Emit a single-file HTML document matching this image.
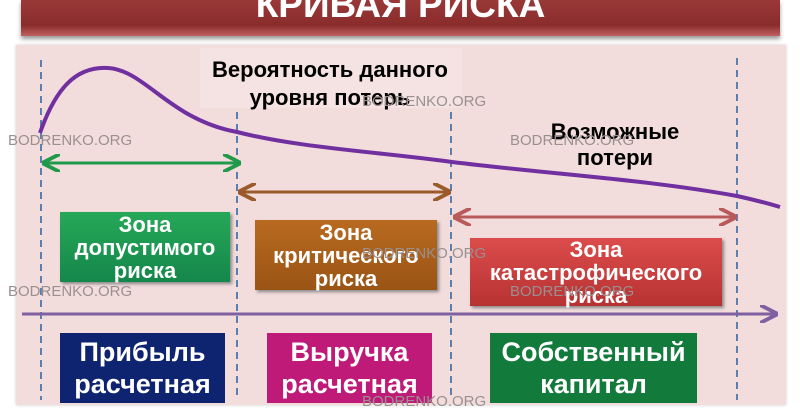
<!DOCTYPE html>
<html><head><meta charset="utf-8"><style>
body{margin:0;width:802px;height:400px;overflow:hidden;background:#fff;position:relative;font-family:"Liberation Sans","DejaVu Sans",sans-serif}
.a{position:absolute}
.t{font-weight:bold;text-align:center;color:#fff;line-height:1.1}
.wm{position:absolute;color:#9a9090;font-size:15px}
</style></head><body>
<div class="a" style="left:21px;top:0;width:759px;height:36px;background:linear-gradient(#9a3838,#8a2c2c 70%,#c06060);box-shadow:0 3px 4px #999"></div>
<div class="a t" style="left:21px;width:759px;top:-15px;font-size:37px;">КРИВАЯ РИСКА</div>
<div class="a" style="left:16px;top:45px;width:770px;height:360px;background:#f3dcdc;box-shadow:0 0 3px #ccc"></div>
<div class="a" style="left:200px;top:48px;width:262px;height:60px;background:#f5e3e3"></div>
<svg class="a" style="left:0;top:0" width="802" height="400">
<defs>
<marker id="g" markerWidth="6" markerHeight="6" refX="5" refY="3" orient="auto-start-reverse"><path d="M0,0 L6,3 L0,6" fill="none" stroke="#1f9a4a" stroke-width="1.3"/></marker>
<marker id="b" markerWidth="6" markerHeight="6" refX="5" refY="3" orient="auto-start-reverse"><path d="M0,0 L6,3 L0,6" fill="none" stroke="#9a5a2a" stroke-width="1.3"/></marker>
<marker id="r" markerWidth="6" markerHeight="6" refX="5" refY="3" orient="auto-start-reverse"><path d="M0,0 L6,3 L0,6" fill="none" stroke="#b85a5a" stroke-width="1.3"/></marker>
<marker id="p" markerWidth="6" markerHeight="6" refX="5" refY="3" orient="auto"><path d="M0,0 L6,3 L0,6" fill="none" stroke="#8060a0" stroke-width="1.3"/></marker>
</defs>
<g stroke="#5a7fb0" stroke-width="2" stroke-dasharray="7,5">
<line x1="41" y1="60" x2="41" y2="400"/><line x1="237" y1="112" x2="237" y2="400"/>
<line x1="451" y1="112" x2="451" y2="400"/><line x1="737" y1="58" x2="737" y2="400"/></g>
<path d="M40,133 C55,90 75,66 108,68 C145,70 170,120 237,132 C300,148 380,152 452,162 C560,175 650,180 737,196 C755,200 770,204 780,207" fill="none" stroke="#7030a0" stroke-width="4"/>
<line x1="45" y1="163" x2="238" y2="163" stroke="#1f9a4a" stroke-width="3" marker-start="url(#g)" marker-end="url(#g)"/>
<line x1="241" y1="192" x2="448" y2="192" stroke="#9a5a2a" stroke-width="3" marker-start="url(#b)" marker-end="url(#b)"/>
<line x1="456" y1="217" x2="734" y2="217" stroke="#b85a5a" stroke-width="3" marker-start="url(#r)" marker-end="url(#r)"/>
<line x1="22" y1="314" x2="775" y2="314" stroke="#8060a0" stroke-width="3" marker-end="url(#p)"/>
</svg>
<div class="a t" style="left:180px;width:300px;top:56px;font-size:22px;color:#000;line-height:28px">Вероятность данного<br>уровня потерь</div>
<div class="a t" style="left:515px;width:200px;top:119px;font-size:22px;color:#000;line-height:26px">Возможные<br>потери</div>
<div class="a t" style="left:60px;top:212px;width:170px;height:70px;background:linear-gradient(#26a858,#14874a);font-size:22px;line-height:23px;display:flex;align-items:center;justify-content:center;box-shadow:2px 2px 3px #888">Зона<br>допустимого<br>риска</div>
<div class="a t" style="left:255px;top:220px;width:182px;height:70px;background:linear-gradient(#b86a20,#9a5414);font-size:22px;line-height:23px;display:flex;align-items:center;justify-content:center;box-shadow:2px 2px 3px #888">Зона<br>критического<br>риска</div>
<div class="a t" style="left:470px;top:238px;width:252px;height:68px;background:linear-gradient(#dc4c4c,#b83232);font-size:22px;line-height:23px;display:flex;align-items:center;justify-content:center;box-shadow:2px 2px 3px #888">Зона<br>катастрофического<br>риска</div>
<div class="a t" style="left:60px;top:333px;width:165px;height:70px;background:#0f2470;font-size:27px;line-height:32px;display:flex;align-items:center;justify-content:center">Прибыль<br>расчетная</div>
<div class="a t" style="left:267px;top:333px;width:165px;height:70px;background:#c01a78;font-size:27px;line-height:32px;display:flex;align-items:center;justify-content:center">Выручка<br>расчетная</div>
<div class="a t" style="left:490px;top:333px;width:207px;height:70px;background:#127a3a;font-size:27px;line-height:32px;display:flex;align-items:center;justify-content:center">Собственный<br>капитал</div>
<div class="wm" style="left:8px;top:132px">BODRENKO.ORG</div>
<div class="wm" style="left:362px;top:93px">BODRENKO.ORG</div>
<div class="wm" style="left:510px;top:132px">BODRENKO.ORG</div>
<div class="wm" style="left:8px;top:283px">BODRENKO.ORG</div>
<div class="wm" style="left:362px;top:245px">BODRENKO.ORG</div>
<div class="wm" style="left:510px;top:283px">BODRENKO.ORG</div>
<div class="wm" style="left:362px;top:393px">BODRENKO.ORG</div>
</body></html>
